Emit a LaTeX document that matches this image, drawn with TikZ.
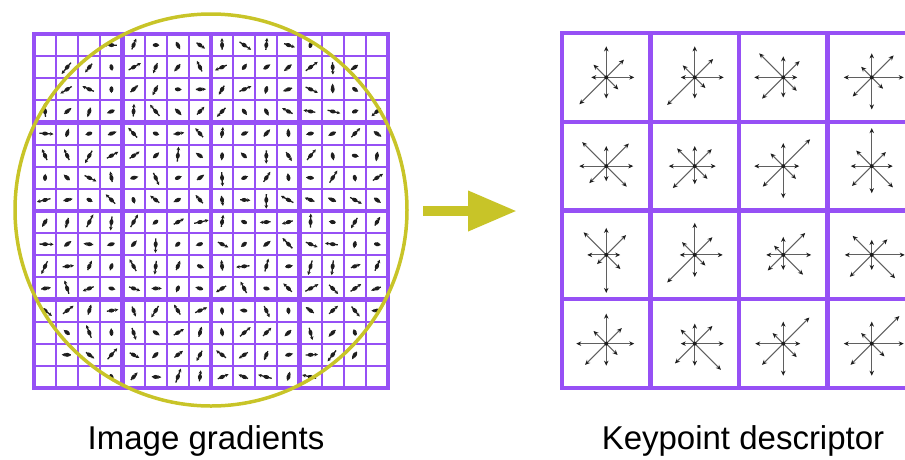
\documentclass[tikz,border=0pt]{standalone}
\usepackage{fontspec}
\setmainfont{Liberation Sans}
\usetikzlibrary{arrows.meta}

\definecolor{gridviolet}{RGB}{150,80,245}
\definecolor{ringyellow}{RGB}{200,196,40}
\definecolor{bingray}{RGB}{95,95,95}
\definecolor{bindark}{RGB}{30,30,30}

\tikzset{
  thingrid/.style={draw=gridviolet,line width=2pt,line cap=rect},
  thickgrid/.style={draw=gridviolet,line width=4.2pt,line cap=rect},
  gradarrow/.style={draw=bindark,line width=1.3pt,-{Stealth[length=3.5pt,width=3.5pt]}},
  binarrow/.style={draw=bingray,line width=1pt,-{Stealth[length=5pt,width=4.5pt,color=bindark]}},
  captiontext/.style={anchor=base,inner sep=0pt,font=\fontsize{33}{40}\selectfont}
}

\begin{document}
\begin{tikzpicture}[x=1pt,y=-1pt]
\useasboundingbox (0,0) rectangle (905,459);
\clip (0,0) rectangle (905,459);

% left grid, 16x16 cells
\foreach \k in {0,...,16}{
  \draw[thingrid] (34+22.125*\k,34) -- (34+22.125*\k,388);
  \draw[thingrid] (34,34+22.125*\k) -- (388,34+22.125*\k);
}
\foreach \k in {0,4,...,16}{
  \draw[thickgrid] (34+22.125*\k,34) -- (34+22.125*\k,388);
  \draw[thickgrid] (34,34+22.125*\k) -- (388,34+22.125*\k);
}

% gradients inside the circle
\pgfmathsetseed{4711}
\foreach \i in {0,...,15}{
  \foreach \j in {0,...,15}{
    \pgfmathsetmacro\cx{34+22.125*(\i+0.5)}
    \pgfmathsetmacro\cy{34+22.125*(\j+0.5)}
    \pgfmathsetmacro\dist{veclen(\cx-211,\cy-211)}
    \pgfmathsetmacro\ang{rnd*360}
    \pgfmathsetmacro\len{6+rnd*9}
    \ifdim\dist pt<204pt
      \draw[gradarrow] (\cx,\cy) ++(\ang+180:0.4*\len) -- ++(\ang:\len);
      \fill[bindark,rotate around={-\ang:(\cx,\cy)}] (\cx,\cy) ellipse (3 and 2);
    \fi
  }
}

\node[draw=ringyellow,line width=3.5pt,circle,minimum size=392pt,inner sep=0pt] (ring) at (211,210) {};

% right grid, 4x4 cells
\foreach \k in {0,...,4}{
  \draw[thickgrid] (562+88.5*\k,33) -- (562+88.5*\k,388);
  \draw[thickgrid] (562,33+88.75*\k) -- (916,33+88.75*\k);
}

% orientation histograms: E, NE, N, NW, W, SW, S, SE
\foreach \r/\c/\lens in {
  0/0/{28,25,31,18,15,38,21,17}, 0/1/{29,26,31,17,14,39,21,15},
  0/2/{14,23,21,34,29,30,20,19}, 0/3/{32,31,24,15,28,27,32,16},
  1/0/{27,32,20,34,27,24,15,29}, 1/1/{21,24,20,25,26,31,18,18},
  1/2/{16,38,23,18,29,29,32,18}, 1/3/{21,20,38,22,21,28,27,30},
  2/0/{14,28,27,32,19,13,38,20}, 2/1/{28,25,32,18,15,39,22,15},
  2/2/{28,31,18,13,17,22,15,28}, 2/3/{33,22,15,27,27,31,15,33},
  3/0/{28,22,30,18,30,30,22,16}, 3/1/{29,25,20,20,14,28,22,37},
  3/2/{17,37,22,15,28,30,32,19}, 3/3/{32,39,22,15,28,30,32,18}}{
  \coordinate (bin-\r-\c) at (562+44.25+88.5*\c,33+44.4+88.75*\r);
  \foreach \l [count=\k from 0] in \lens
    \draw[binarrow] (bin-\r-\c) -- ++(-45*\k:\l);
  \fill[bindark] (bin-\r-\c) circle (2);
}

% arrow between the two grids
\coordinate (arrowtail) at (423,211);
\coordinate (arrowtip) at (517,211);
\draw[ringyellow,line width=10pt,-{Triangle[length=49pt,width=38pt]}] (arrowtail) -- (arrowtip);

\node[captiontext] (gradlabel) at (206,449) {Image gradients};
\node[captiontext] (desclabel) at (743,449) {Keypoint descriptor};

\end{tikzpicture}
\end{document}
